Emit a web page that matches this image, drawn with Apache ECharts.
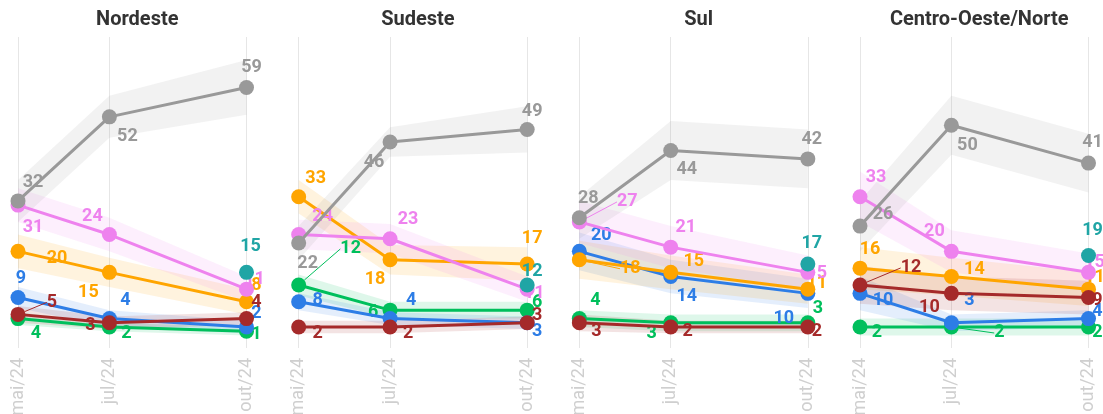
<!DOCTYPE html>
<html><head><meta charset="utf-8">
<script src="https://cdn.jsdelivr.net/npm/echarts@6/dist/echarts.min.js"></script>
<style>html,body{margin:0;padding:0;background:#fff}#c{width:1103px;height:414px}</style>
</head><body><div id="c"></div>
<script>
// ---- categories ----
const months = ['mai/24','jun/24','jul/24','ago/24','set/24','out/24'];
const waves = ['mai/24','jul/24','out/24'];
const regions = ['Nordeste','Sudeste','Sul','Centro-Oeste/Norte'];

// ---- values: one row per region, one value per wave ----
const gray   = [[32,52,59],[22,46,49],[28,44,42],[26,50,41]];
const pink   = [[31,24,11],[24,23,11],[27,21,15],[33,20,15]];
const orange = [[20,15,8],[33,18,17],[18,15,11],[16,14,11]];
const blue   = [[9,4,2],[8,4,3],[20,14,10],[10,3,4]];
const red    = [[5,3,4],[2,2,3],[3,2,2],[12,10,9]];
const green  = [[4,2,1],[12,6,6],[4,3,3],[2,2,2]];
const teal   = [[null,null,15],[null,null,12],[null,null,17],[null,null,19]];

// ---- margins of the shaded bands (half-width, points) ----
const grayMoe   = [[5,5,6.5],[4,3.5,5.5],[5,7,7],[6,7,7]];
const pinkMoe   = [[4,4,3],[3.5,3.5,3],[5,5,4],[6,5,4.5]];
const orangeMoe = [[4,3.5,3],[4,3.5,4],[4.5,4,3.5],[5,4.5,4]];
const blueMoe   = [[2.5,2,1.5],[2,1.5,1.5],[4.5,4,3.5],[4,2,2]];
const redMoe    = [[2,1.5,1.5],[1.5,1.5,1.5],[2,1.5,1.5],[4.5,4,4]];
const greenMoe  = [[1.5,1,1],[2.5,2,2],[2,2,2],[2,2,2]];

// ---- styling / layout (not data) ----
const COLORS = {gray:'#999999', pink:'#ee82ee', orange:'#ffa500', blue:'#2d7de6', red:'#a52a2a', green:'#00bf5c', teal:'#20a5a5'};
const VALUES = {gray, pink, orange, blue, red, green, teal};
const MOES = {gray:grayMoe, pink:pinkMoe, orange:orangeMoe, blue:blueMoe, red:redMoe, green:greenMoe};
const ORDER = ['green','blue','orange','pink','red','teal','gray'];
const LABEL_OFF = [
  {gray:[[15,-18],[18,20],[5,-20]], pink:[[15,22],[-17,-18],[8,-10]], orange:[[39,7],[-21,20],[10,-16]],
   blue:[[3,-19],[16,-18],[10,-13]], red:[[34,-12],[-19,3],[10,-16]], green:[[18,15],[17,7],[10,3]], teal:[null,null,[4,-26]]},
  {gray:[[9,21],[-16,20],[5,-18]], orange:[[17,-18],[-15,20],[5,-25]], pink:[[24,-18],[18,-19],[7,4]],
   green:[[52,-36],[-17,2],[10,-8]], blue:[[19,-1],[21,-18],[10,9]], red:[[19,7],[18,7],[10,-7]], teal:[null,null,[5,-13]]},
  {gray:[[9,-19],[16,19],[4,-19]], pink:[[48,-20],[15,-20],[9,1]], blue:[[22,-16],[16,20],[-24,25]],
   orange:[[51,9],[23,-11],[9,-6]], green:[[16,-18],[-19,11],[10,-14]], red:[[17,9],[17,5],[9,5]], teal:[null,null,[4,-20]]},
  {gray:[[23,-12],[16,20],[4,-21]], pink:[[16,-19],[-17,-20],[6,-10]], orange:[[10,-19],[23,-7],[6,-12]],
   red:[[51,-17],[-22,14],[9,3]], blue:[[23,7],[18,-22],[9,-7]], green:[[17,6],[48,6],[9,6]], teal:[null,null,[4,-25]]}
];
const LEADERS = ['0|red|0','1|green|0','2|pink|0','2|orange|0','3|red|0','3|green|1'];

const FONT = 'Roboto';
const grids = [], xAxes = [], yAxes = [], titles = [], series = [];
regions.forEach((reg, i) => {
  const left = 18 + 280.67 * i, width = 228.5;
  grids.push({left, top: 37, width, height: 311, outerBoundsMode: 'none', containLabel: false});
  const showIdx = (idx) => waves.includes(months[idx]);
  xAxes.push({type:'category', gridIndex:i, data: months, boundaryGap:false,
    axisLine:{show:false}, axisTick:{show:false},
    splitLine:{show:true, interval: showIdx, lineStyle:{color:'#e6e6e6', width:1}},
    axisLabel:{rotate:90, interval: showIdx, color:'#cfcfcf', fontSize:18, margin:10, fontFamily:FONT}});
  yAxes.push({type:'value', gridIndex:i, min:-3, max:71, show:false});
  titles.push({text: reg, left: left + width/2, top: 5, textAlign:'center',
    textStyle:{fontSize:20, fontWeight:'bold', color:'#333', fontFamily:FONT}});

  // bands
  ORDER.forEach(key => {
    if (!MOES[key]) return;
    const v = VALUES[key][i], m = MOES[key][i];
    const pts = waves.map((w,k) => [months.indexOf(w), v[k]-m[k], v[k]+m[k]]);
    series.push({type:'custom', xAxisIndex:i, yAxisIndex:i, silent:true, z:1, animation:false,
      data: pts, encode:{x:0, y:[1,2]},
      renderItem: (params, api) => {
        if (params.dataIndex !== 0) return null;
        const up = pts.map(p => api.coord([p[0], p[2]]));
        const lo = pts.map(p => api.coord([p[0], p[1]])).reverse();
        return {type:'polygon', shape:{points: up.concat(lo)}, style:{fill: COLORS[key], opacity: 0.13}};
      }});
  });
  // lines
  ORDER.forEach((key, si) => {
    const v = VALUES[key][i];
    const data = [], offs = [];
    waves.forEach((w,k) => {
      if (v[k] == null) return;
      data.push({value:[w, v[k]], labelLine:{show: LEADERS.includes(i+'|'+key+'|'+k)}});
      offs.push(LABEL_OFF[i][key][k]);
    });
    series.push({type:'line', name:key, xAxisIndex:i, yAxisIndex:i, z: 3 + si, animation:false,
      data, symbol:'circle', symbolSize:15, showAllSymbol:true,
      lineStyle:{color:COLORS[key], width:3}, itemStyle:{color:COLORS[key]},
      emphasis:{disabled:true},
      label:{show:true, position:'inside', color:COLORS[key], fontSize:18, fontWeight:'bold', fontFamily:FONT,
        formatter: p => p.value[1]},
      labelLine:{show:false, lineStyle:{width:1, color:COLORS[key]}},
      labelLayout: p => ({dx: offs[p.dataIndex][0], dy: offs[p.dataIndex][1]})
    });
  });
});

const chart = echarts.init(document.getElementById('c'), null, {renderer:'canvas'});
chart.setOption({backgroundColor:'#fff', animation:false, title: titles, grid: grids, xAxis: xAxes, yAxis: yAxes, series});
</script></body></html>
